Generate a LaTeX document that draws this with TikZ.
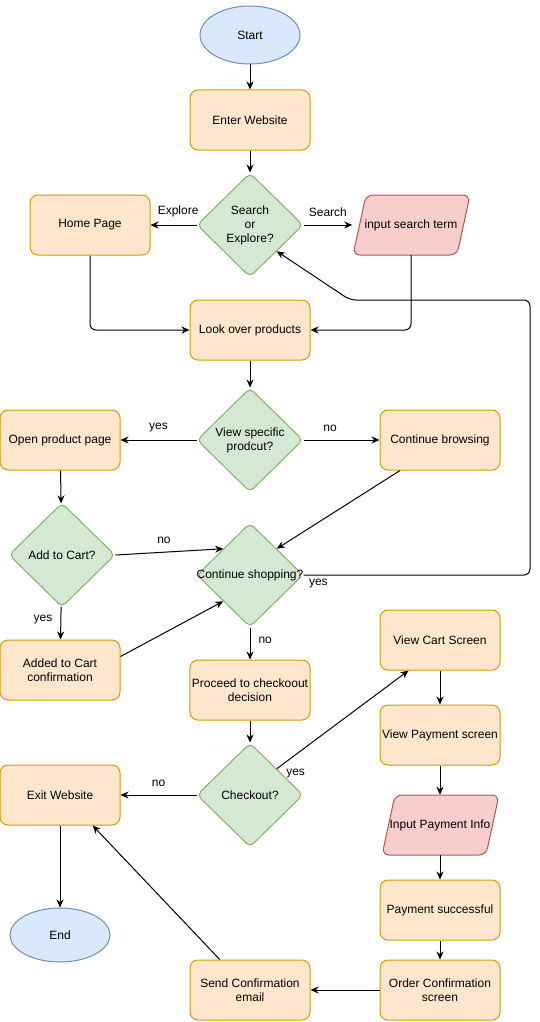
\documentclass[tikz,border=0pt]{standalone}
\usepackage{fontspec}
\setmainfont{Liberation Sans}
\usetikzlibrary{shapes.geometric,arrows.meta,calc}
\definecolor{orangeF}{HTML}{FFE6CC}
\definecolor{orangeS}{HTML}{D79B00}
\definecolor{greenF}{HTML}{D5E8D4}
\definecolor{greenS}{HTML}{82B366}
\definecolor{redF}{HTML}{F8CECC}
\definecolor{redS}{HTML}{B85450}
\definecolor{blueF}{HTML}{DAE8FC}
\definecolor{blueS}{HTML}{6C8EBF}
\begin{document}
\begin{tikzpicture}[x=1pt,y=-1pt,
 every node/.style={font=\fontsize{12}{14}\selectfont},
 box/.style={draw=orangeS, fill=orangeF, rounded corners=8pt, minimum width=120pt, minimum height=60pt, align=center, inner sep=2pt, line width=1pt},
 dia/.style={diamond, draw=greenS, fill=greenF, minimum width=106pt, minimum height=104pt, inner sep=0pt, rounded corners=5pt, line width=1pt},
 iobox/.style={minimum width=117pt, minimum height=60pt, inner sep=0pt},
 ioshape/.style={draw=redS, fill=redF, rounded corners=7pt, line width=1pt},
 term/.style={ellipse, draw=blueS, fill=blueF, minimum width=100pt, minimum height=58pt, line width=1pt},
 arr/.style={-{Stealth[length=8pt,width=7pt,inset=2.5pt]}, line width=1pt, rounded corners=6pt},
 lbl/.style={inner sep=0pt}
]
\useasboundingbox (0,0) rectangle (539,1022);
% parallelogram outlines
\path[ioshape] (353,255) -- (457,255) -- (470,195) -- (366,195) -- cycle;
\path[ioshape] (382,855) -- (486,855) -- (499,795) -- (395,795) -- cycle;
% nodes
\node[term] (start) at (250,35) {Start};
\node[box] (enter) at (250,120) {Enter Website};
\node[dia, label={[align=center]center:Search\\or\\Explore?}] (se) at (250,225) {};
\node[box] (home) at (90,225) {Home Page};
\node[iobox] (ist) at (411,225) {input search term};
\node[box] (look) at (250,330) {Look over products};
\node[dia, label={[align=center]center:View specific\\prodcut?}] (vs) at (250,440) {};
\node[box] (opp) at (60,440) {Open product page};
\node[box] (cb) at (440,440) {Continue browsing};
\node[dia, label={[align=center]center:Add to Cart?}] (ac) at (62,555) {};
\node[dia, label={[align=center]center:Continue shopping?}] (cs) at (250,575) {};
\node[box] (acc) at (60,670) {Added to Cart\\confirmation};
\node[box] (pcd) at (250,690) {Proceed to checkoout\\decision};
\node[box] (vcs) at (440,640) {View Cart Screen};
\node[box] (vps) at (440,735) {View Payment screen};
\node[iobox] (ipi) at (440,825) {Input Payment Info};
\node[box] (ps) at (440,910) {Payment successful};
\node[box] (ocs) at (440,990) {Order Confirmation\\screen};
\node[box] (sce) at (250,990) {Send Confirmation\\email};
\node[dia, label={[align=center]center:Checkout?}] (ck) at (250,795) {};
\node[box] (exit) at (60,795) {Exit Website};
\node[term, minimum height=54pt] (end) at (60,935) {End};
% connectors
\draw[arr] (start) -- (enter);
\draw[arr] (enter) -- (se);
\draw[arr] (se) -- node[lbl, above=8pt, pos=0.4]{Explore} (home);
\draw[arr] (se) -- node[lbl, above=8pt]{Search} (ist);
\draw[arr] (home.south) |- (look.west);
\draw[arr] (ist.south) |- (look.east);
\draw[arr] (look) -- (vs);
\draw[arr] (vs) -- node[lbl, above=8pt]{yes} (opp);
\draw[arr] (vs) -- node[lbl, above=8pt, pos=0.35]{no} (cb);
\draw[arr] (opp) -- (ac);
\draw[arr] (ac.east) -- node[lbl, above=8pt, pos=0.45]{no} ($(cs.north)!0.5!(cs.west)$);
\draw[arr] ($(cb.south west)!0.17!(cb.south east)$) -- ($(cs.north)!0.5!(cs.east)$);
\draw[arr] (ac) -- node[lbl, left=8pt, pos=0.4]{yes} (acc);
\draw[arr] ($(acc.north east)+(0,17)$) -- ($(cs.west)!0.5!(cs.south)$);
\draw[arr] (cs.east) node[lbl, anchor=north west, xshift=5pt, yshift=-4pt]{yes} -- (530,575) -- (530,300) -- (350,300) -- ($(se.east)!0.5!(se.south)$);
\draw[arr] (cs) -- node[lbl, right=8pt, pos=0.4]{no} (pcd);
\draw[arr] (pcd) -- (ck);
\draw[arr] ($(ck.north)!0.5!(ck.east)$) node[lbl, anchor=south west, xshift=9pt, yshift=-10pt]{yes} -- ($(vcs.south west)!0.24!(vcs.south east)$);
\draw[arr] (ck) -- node[lbl, above=8pt]{no} (exit);
\draw[arr] (vcs) -- (vps);
\draw[arr] (vps) -- (ipi);
\draw[arr] (ipi) -- (ps);
\draw[arr] (ps) -- (ocs);
\draw[arr] (ocs) -- (sce);
\draw[arr] ($(sce.north west)!0.25!(sce.north east)$) -- ($(exit.south west)!0.77!(exit.south east)$);
\draw[arr] (exit) -- (end);
\end{tikzpicture}
\end{document}
